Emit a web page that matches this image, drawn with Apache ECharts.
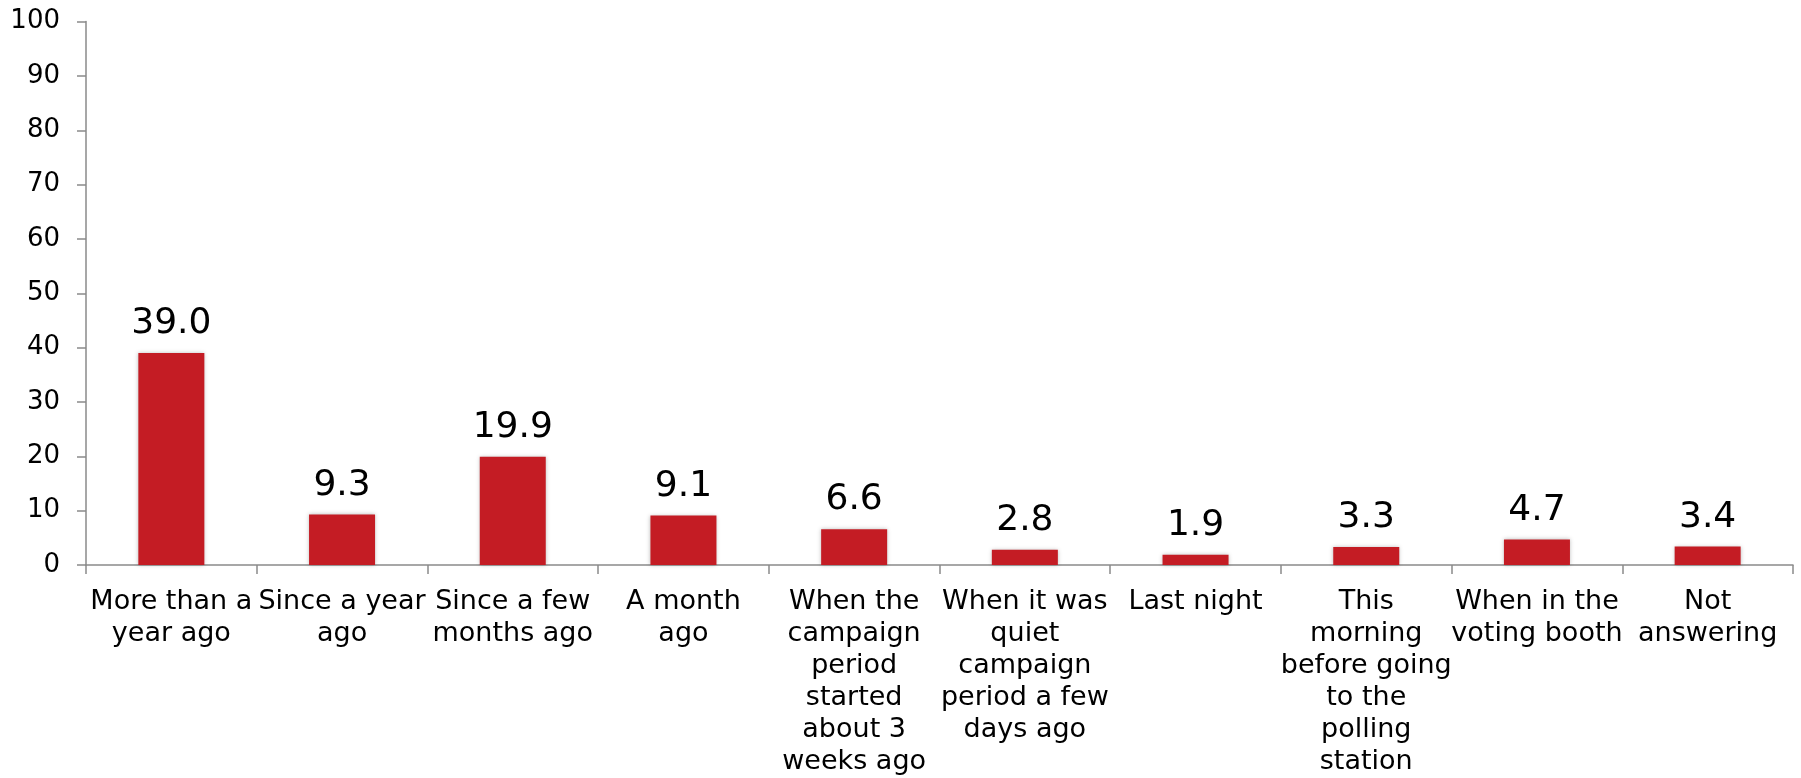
<!DOCTYPE html>
<html>
<head>
<meta charset="utf-8">
<script src="https://cdn.jsdelivr.net/npm/echarts@6/dist/echarts.min.js"></script>
<style>
html,body{margin:0;padding:0;background:#fff;}
#chart{width:1801px;height:778px;}
</style>
</head>
<body>
<div id="chart"></div>
<script>
const categories = [
  "More than a\nyear ago",
  "Since a year\nago",
  "Since a few\nmonths ago",
  "A month\nago",
  "When the\ncampaign\nperiod\nstarted\nabout 3\nweeks ago",
  "When it was\nquiet\ncampaign\nperiod a few\ndays ago",
  "Last night",
  "This\nmorning\nbefore going\nto the\npolling\nstation",
  "When in the\nvoting booth",
  "Not\nanswering"
];
const values = [39.0, 9.3, 19.9, 9.1, 6.6, 2.8, 1.9, 3.3, 4.7, 3.4];
const yTicks = [0, 10, 20, 30, 40, 50, 60, 70, 80, 90, 100];

const FONT = "'DejaVu Sans', Verdana, sans-serif";
const chart = echarts.init(document.getElementById('chart'), null, {renderer: 'canvas'});
chart.setOption({
  animation: false,
  backgroundColor: '#ffffff',
  grid: {left: 86, right: 8, top: 21.6, bottom: 212.3, containLabel: false},
  xAxis: {
    type: 'category',
    data: categories,
    axisLine: {lineStyle: {color: '#8a8a8a', width: 1.5}},
    axisTick: {show: true, length: 9, lineStyle: {color: '#8a8a8a', width: 1.5}},
    axisLabel: {
      interval: 0,
      color: '#000',
      fontFamily: FONT,
      fontSize: 27,
      lineHeight: 32,
      margin: 21,
      align: 'center'
    },
    splitLine: {show: false}
  },
  yAxis: {
    type: 'value',
    min: yTicks[0],
    max: yTicks[yTicks.length - 1],
    interval: 10,
    axisLine: {show: true, lineStyle: {color: '#8a8a8a', width: 1.5}},
    axisTick: {show: true, length: 9, lineStyle: {color: '#8a8a8a', width: 1.5}},
    axisLabel: {color: '#000', fontFamily: FONT, fontSize: 26, margin: 26},
    splitLine: {show: false}
  },
  series: [{
    type: 'bar',
    data: values,
    barWidth: 66,
    itemStyle: {
      color: '#c41c24',
      shadowColor: 'rgba(0,0,0,0.25)',
      shadowBlur: 4,
      shadowOffsetX: 0,
      shadowOffsetY: 0
    },
    label: {
      show: true,
      position: 'top',
      distance: 11,
      color: '#000',
      fontFamily: FONT,
      fontSize: 36,
      formatter: p => p.value.toFixed(1)
    }
  }]
});
</script>
</body>
</html>
